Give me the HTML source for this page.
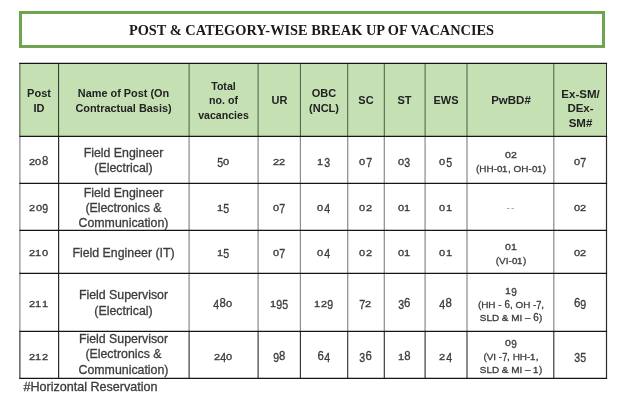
<!DOCTYPE html>
<html><head><meta charset="utf-8"><title>Vacancies</title>
<style>
html,body{margin:0;padding:0;background:#fff;}
body{width:635px;height:413px;position:relative;overflow:hidden;font-family:"Liberation Sans",sans-serif;color:#3f3f3f;}
.title{position:absolute;left:19px;top:11px;width:580px;height:31px;border:3px solid #6fa44e;background:#fff;text-align:center;font-family:"Liberation Serif",serif;font-weight:bold;font-size:14.37px;line-height:32px;padding-right:1px;width:579px;color:#1a1a1a;white-space:nowrap;}
.c{position:absolute;display:flex;align-items:center;justify-content:center;text-align:center;box-sizing:border-box;font-size:12.35px;line-height:15.6px;white-space:nowrap;-webkit-text-stroke:0.3px #3c3c3c;color:#3c3c3c;}
.h{background:#c5e0b3;font-weight:bold;font-size:11px;line-height:14.4px;color:#222;-webkit-text-stroke:0;padding-top:1px;}
.h1{font-size:10.9px;}
.h2{font-size:10.6px;}
.h8{font-size:11.5px;}
.h9{font-size:11.5px;padding-top:17px;}
.p1{display:block;font-size:10.8px;line-height:15px;letter-spacing:0.25px;}
.p2{display:block;font-size:9.95px;line-height:13px;}
.p{padding-top:1.5px;}
.m1{line-height:15px;padding-top:1.8px;}
.m2{line-height:15px;padding-top:3px;}
.m3{padding-top:3px;}
.m4{line-height:16px;padding-top:1.6px;}
.m5{line-height:15.5px;}
.n{font-size:11.4px;padding-top:2.2px;padding-right:0.6px;letter-spacing:0.25px;}
.n1{padding-top:3.4px;}
.n5{padding-top:3px;}
i{font-style:normal;display:inline-block;line-height:1em;height:1em;transform-origin:50% 0.847em;}
i.x{transform:scale(0.97,0.82);-webkit-text-stroke:0.4px #3c3c3c;}
i.y{transform:translateY(0.19em) scale(0.93,1.08);margin:0 -0.3px;}
i.w{transform:translateY(0.14em) scale(0.93,1.08);margin:0 -0.3px;}
i.z{transform:scaleY(1.06);}
.l{position:absolute;}
.foot{-webkit-text-stroke:0.3px #3a3a3a;position:absolute;left:23.5px;top:379px;font-size:12.57px;line-height:16px;color:#3a3a3a;white-space:nowrap;}
</style></head><body>
<div class="title">POST &amp; CATEGORY-WISE BREAK UP OF VACANCIES</div>
<div class="c h h0" style="left:19px;top:63px;width:40px;height:74px"><span>Post<br>ID</span></div>
<div class="c h h1" style="left:58px;top:63px;width:131px;height:74px"><span>Name of Post (On<br>Contractual Basis)</span></div>
<div class="c h h2" style="left:188px;top:63px;width:71px;height:74px"><span>Total<br>no. of<br>vacancies</span></div>
<div class="c h h3" style="left:258px;top:63px;width:43px;height:74px"><span>UR</span></div>
<div class="c h h4" style="left:300px;top:63px;width:48px;height:74px"><span>OBC<br>(NCL)</span></div>
<div class="c h h5" style="left:347px;top:63px;width:38px;height:74px"><span>SC</span></div>
<div class="c h h6" style="left:384px;top:63px;width:41px;height:74px"><span>ST</span></div>
<div class="c h h7" style="left:424px;top:63px;width:44px;height:74px"><span>EWS</span></div>
<div class="c h h8" style="left:467px;top:63px;width:88px;height:74px"><span>PwBD#</span></div>
<div class="c h h9" style="left:554px;top:63px;width:53px;height:74px"><span>Ex-SM/<br>DEx-<br>SM#</span></div>
<div class="c n n1" style="left:19px;top:136px;width:40px;height:48px"><span><i class="x">2</i><i class="x">0</i><i class="z">8</i></span></div>
<div class="c m m1" style="left:58px;top:136px;width:131px;height:48px"><span>Field Engineer<br>(Electrical)</span></div>
<div class="c n n1" style="left:188px;top:136px;width:71px;height:48px"><span><i class="y">5</i><i class="x">0</i></span></div>
<div class="c n n1" style="left:258px;top:136px;width:43px;height:48px"><span><i class="x">2</i><i class="x">2</i></span></div>
<div class="c n n1" style="left:300px;top:136px;width:48px;height:48px"><span><i class="x">1</i><i class="y">3</i></span></div>
<div class="c n n1" style="left:347px;top:136px;width:38px;height:48px"><span><i class="x">0</i><i class="w">7</i></span></div>
<div class="c n n1" style="left:384px;top:136px;width:41px;height:48px"><span><i class="x">0</i><i class="y">3</i></span></div>
<div class="c n n1" style="left:424px;top:136px;width:44px;height:48px"><span><i class="x">0</i><i class="y">5</i></span></div>
<div class="c p" style="left:467px;top:136px;width:88px;height:48px"><span><span class=p1><i class="x">0</i><i class="x">2</i></span><span class=p2>(HH-<i class="x">0</i><i class="x">1</i>, OH-<i class="x">0</i><i class="x">1</i>)</span></span></div>
<div class="c n n1" style="left:554px;top:136px;width:53px;height:48px"><span><i class="x">0</i><i class="w">7</i></span></div>
<div class="c n n2" style="left:19px;top:183px;width:40px;height:48px"><span><i class="x">2</i><i class="x">0</i><i class="y">9</i></span></div>
<div class="c m m2" style="left:58px;top:183px;width:131px;height:48px"><span>Field Engineer<br>(Electronics &amp;<br>Communication)</span></div>
<div class="c n n2" style="left:188px;top:183px;width:71px;height:48px"><span><i class="x">1</i><i class="y">5</i></span></div>
<div class="c n n2" style="left:258px;top:183px;width:43px;height:48px"><span><i class="x">0</i><i class="w">7</i></span></div>
<div class="c n n2" style="left:300px;top:183px;width:48px;height:48px"><span><i class="x">0</i><i class="y">4</i></span></div>
<div class="c n n2" style="left:347px;top:183px;width:38px;height:48px"><span><i class="x">0</i><i class="x">2</i></span></div>
<div class="c n n2" style="left:384px;top:183px;width:41px;height:48px"><span><i class="x">0</i><i class="x">1</i></span></div>
<div class="c n n2" style="left:424px;top:183px;width:44px;height:48px"><span><i class="x">0</i><i class="x">1</i></span></div>
<div class="c p" style="left:467px;top:183px;width:88px;height:48px"><span><span class=p2 style="color:#8a8a8a;-webkit-text-stroke:0;letter-spacing:1.2px">--</span></span></div>
<div class="c n n2" style="left:554px;top:183px;width:53px;height:48px"><span><i class="x">0</i><i class="x">2</i></span></div>
<div class="c n n3" style="left:19px;top:230px;width:40px;height:44px"><span><i class="x">2</i><i class="x">1</i><i class="x">0</i></span></div>
<div class="c m m3" style="left:58px;top:230px;width:131px;height:44px"><span>Field Engineer (IT)</span></div>
<div class="c n n3" style="left:188px;top:230px;width:71px;height:44px"><span><i class="x">1</i><i class="y">5</i></span></div>
<div class="c n n3" style="left:258px;top:230px;width:43px;height:44px"><span><i class="x">0</i><i class="w">7</i></span></div>
<div class="c n n3" style="left:300px;top:230px;width:48px;height:44px"><span><i class="x">0</i><i class="y">4</i></span></div>
<div class="c n n3" style="left:347px;top:230px;width:38px;height:44px"><span><i class="x">0</i><i class="x">2</i></span></div>
<div class="c n n3" style="left:384px;top:230px;width:41px;height:44px"><span><i class="x">0</i><i class="x">1</i></span></div>
<div class="c n n3" style="left:424px;top:230px;width:44px;height:44px"><span><i class="x">0</i><i class="x">1</i></span></div>
<div class="c p" style="left:467px;top:230px;width:88px;height:44px"><span><span class=p1><i class="x">0</i><i class="x">1</i></span><span class=p2>(VI-<i class="x">0</i><i class="x">1</i>)</span></span></div>
<div class="c n n3" style="left:554px;top:230px;width:53px;height:44px"><span><i class="x">0</i><i class="x">2</i></span></div>
<div class="c n n4" style="left:19px;top:273px;width:40px;height:59px"><span><i class="x">2</i><i class="x">1</i><i class="x">1</i></span></div>
<div class="c m m4" style="left:58px;top:273px;width:131px;height:59px"><span>Field Supervisor<br>(Electrical)</span></div>
<div class="c n n4" style="left:188px;top:273px;width:71px;height:59px"><span><i class="y">4</i><i class="z">8</i><i class="x">0</i></span></div>
<div class="c n n4" style="left:258px;top:273px;width:43px;height:59px"><span><i class="x">1</i><i class="y">9</i><i class="y">5</i></span></div>
<div class="c n n4" style="left:300px;top:273px;width:48px;height:59px"><span><i class="x">1</i><i class="x">2</i><i class="y">9</i></span></div>
<div class="c n n4" style="left:347px;top:273px;width:38px;height:59px"><span><i class="w">7</i><i class="x">2</i></span></div>
<div class="c n n4" style="left:384px;top:273px;width:41px;height:59px"><span><i class="y">3</i><i class="z">6</i></span></div>
<div class="c n n4" style="left:424px;top:273px;width:44px;height:59px"><span><i class="y">4</i><i class="z">8</i></span></div>
<div class="c p" style="left:467px;top:273px;width:88px;height:59px"><span><span class=p1><i class="x">1</i><i class="y">9</i></span><span class=p2>(HH - <i class="z">6</i>, OH -<i class="w">7</i>,<br>SLD &amp; MI – <i class="z">6</i>)</span></span></div>
<div class="c n n4" style="left:554px;top:273px;width:53px;height:59px"><span><i class="z">6</i><i class="y">9</i></span></div>
<div class="c n n5" style="left:19px;top:331px;width:40px;height:48px"><span><i class="x">2</i><i class="x">1</i><i class="x">2</i></span></div>
<div class="c m m5" style="left:58px;top:331px;width:131px;height:48px"><span>Field Supervisor<br>(Electronics &amp;<br>Communication)</span></div>
<div class="c n n5" style="left:188px;top:331px;width:71px;height:48px"><span><i class="x">2</i><i class="y">4</i><i class="x">0</i></span></div>
<div class="c n n5" style="left:258px;top:331px;width:43px;height:48px"><span><i class="y">9</i><i class="z">8</i></span></div>
<div class="c n n5" style="left:300px;top:331px;width:48px;height:48px"><span><i class="z">6</i><i class="y">4</i></span></div>
<div class="c n n5" style="left:347px;top:331px;width:38px;height:48px"><span><i class="y">3</i><i class="z">6</i></span></div>
<div class="c n n5" style="left:384px;top:331px;width:41px;height:48px"><span><i class="x">1</i><i class="z">8</i></span></div>
<div class="c n n5" style="left:424px;top:331px;width:44px;height:48px"><span><i class="x">2</i><i class="y">4</i></span></div>
<div class="c p" style="left:467px;top:331px;width:88px;height:48px"><span><span class=p1><i class="x">0</i><i class="y">9</i></span><span class=p2>(VI -<i class="w">7</i>, HH-<i class="x">1</i>,<br>SLD &amp; MI – <i class="x">1</i>)</span></span></div>
<div class="c n n5" style="left:554px;top:331px;width:53px;height:48px"><span><i class="y">3</i><i class="y">5</i></span></div>
<svg class="l" style="left:0;top:0" width="635" height="413" viewBox="0 0 635 413"><line x1="19.9" y1="63" x2="19.9" y2="136" stroke="#4d5a44" stroke-width="1"/><line x1="19.9" y1="136" x2="19.9" y2="331" stroke="#8e8e8e" stroke-width="1.25"/><line x1="19.9" y1="331" x2="19.9" y2="379" stroke="#2b2b2b" stroke-width="1.1"/><line x1="58.6" y1="63" x2="58.6" y2="136" stroke="#2b2b2b" stroke-width="1"/><line x1="58.6" y1="136" x2="58.6" y2="379" stroke="#2b2b2b" stroke-width="1.2"/><line x1="189.1" y1="63" x2="189.1" y2="136" stroke="#4d5a44" stroke-width="1"/><line x1="189.1" y1="136" x2="189.1" y2="331" stroke="#8e8e8e" stroke-width="1.25"/><line x1="189.1" y1="331" x2="189.1" y2="379" stroke="#2b2b2b" stroke-width="1.1"/><line x1="258.1" y1="63" x2="258.1" y2="136" stroke="#4d5a44" stroke-width="1"/><line x1="258.1" y1="136" x2="258.1" y2="331" stroke="#8e8e8e" stroke-width="1.25"/><line x1="258.1" y1="331" x2="258.1" y2="379" stroke="#2b2b2b" stroke-width="1.1"/><line x1="300.4" y1="63" x2="300.4" y2="136" stroke="#4d5a44" stroke-width="1"/><line x1="300.4" y1="136" x2="300.4" y2="331" stroke="#8e8e8e" stroke-width="1.25"/><line x1="300.4" y1="331" x2="300.4" y2="379" stroke="#2b2b2b" stroke-width="1.1"/><line x1="347.7" y1="63" x2="347.7" y2="136" stroke="#4d5a44" stroke-width="1"/><line x1="347.7" y1="136" x2="347.7" y2="331" stroke="#8e8e8e" stroke-width="1.25"/><line x1="347.7" y1="331" x2="347.7" y2="379" stroke="#2b2b2b" stroke-width="1.1"/><line x1="384.3" y1="63" x2="384.3" y2="136" stroke="#4d5a44" stroke-width="1"/><line x1="384.3" y1="136" x2="384.3" y2="331" stroke="#8e8e8e" stroke-width="1.25"/><line x1="384.3" y1="331" x2="384.3" y2="379" stroke="#2b2b2b" stroke-width="1.1"/><line x1="425.1" y1="63" x2="425.1" y2="136" stroke="#4d5a44" stroke-width="1"/><line x1="425.1" y1="136" x2="425.1" y2="331" stroke="#8e8e8e" stroke-width="1.25"/><line x1="425.1" y1="331" x2="425.1" y2="379" stroke="#2b2b2b" stroke-width="1.1"/><line x1="467.0" y1="63" x2="467.0" y2="136" stroke="#4d5a44" stroke-width="1"/><line x1="467.0" y1="136" x2="467.0" y2="331" stroke="#8e8e8e" stroke-width="1.25"/><line x1="467.0" y1="331" x2="467.0" y2="379" stroke="#2b2b2b" stroke-width="1.1"/><line x1="553.8" y1="63" x2="553.8" y2="136" stroke="#4d5a44" stroke-width="1"/><line x1="553.8" y1="136" x2="553.8" y2="331" stroke="#8e8e8e" stroke-width="1.25"/><line x1="553.8" y1="331" x2="553.8" y2="379" stroke="#2b2b2b" stroke-width="1.1"/><line x1="606.5" y1="63" x2="606.5" y2="136" stroke="#2b2b2b" stroke-width="1"/><line x1="606.5" y1="136" x2="606.5" y2="379" stroke="#2b2b2b" stroke-width="1.2"/><line x1="19.299999999999997" y1="63.45" x2="607.1" y2="63.45" stroke="#161616" stroke-width="1.25"/><line x1="19.299999999999997" y1="136.45" x2="607.1" y2="136.45" stroke="#161616" stroke-width="1.25"/><line x1="19.299999999999997" y1="183.45" x2="607.1" y2="183.45" stroke="#161616" stroke-width="1.25"/><line x1="19.299999999999997" y1="230.45" x2="607.1" y2="230.45" stroke="#161616" stroke-width="1.25"/><line x1="19.299999999999997" y1="273.45" x2="607.1" y2="273.45" stroke="#161616" stroke-width="1.25"/><line x1="19.299999999999997" y1="331.45" x2="607.1" y2="331.45" stroke="#161616" stroke-width="1.25"/><line x1="19.299999999999997" y1="378.45" x2="607.1" y2="378.45" stroke="#161616" stroke-width="1.25"/></svg>
<div class="foot">#Horizontal Reservation</div>
</body></html>
